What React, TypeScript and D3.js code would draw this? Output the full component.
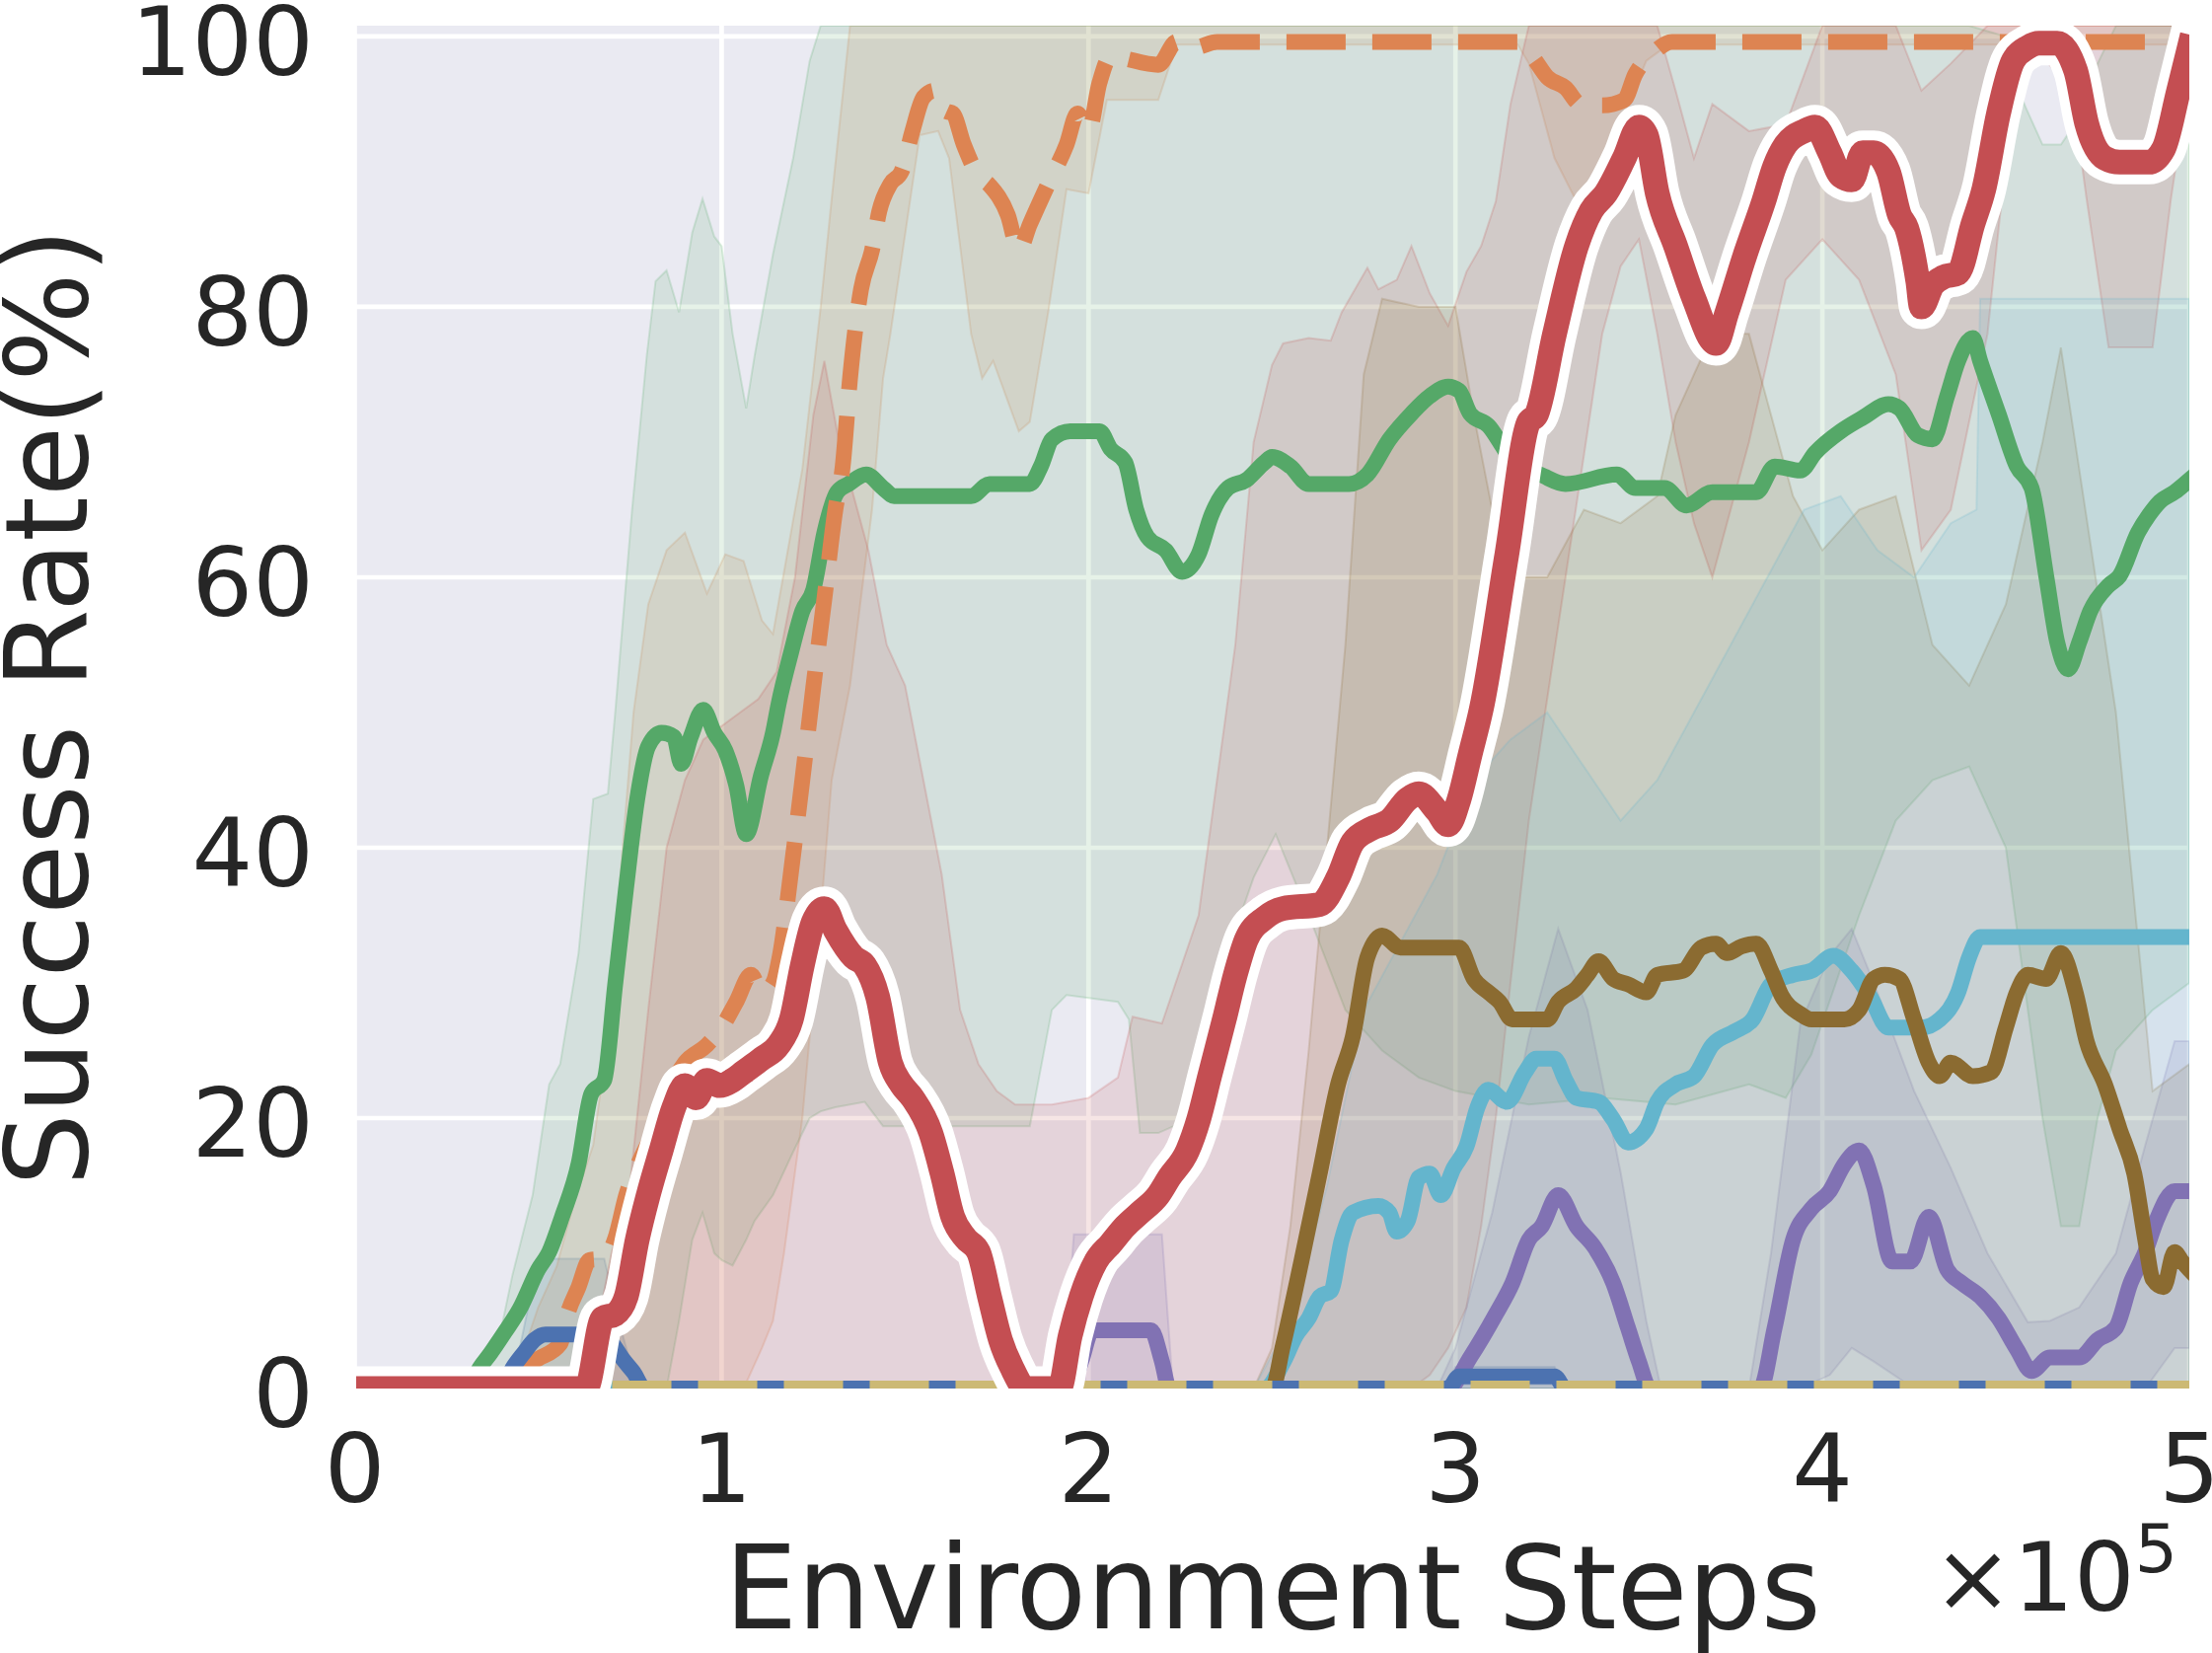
import * as d3 from "d3";
import { useEffect, useRef } from "react";

type Pt = [number, number];
type Band = [number, number, number]; // x, lower, upper

const xTicks = [0, 1, 2, 3, 4, 5];
const yTicks = [0, 20, 40, 60, 80, 100];
const xLabel = "Environment Steps";
const yLabel = "Success Rate(%)";

// mean success rate, x in units of 1e5 env steps
const blueMean: Pt[] = [
  [0, 0], [0.4, 0], [0.43, 1.5], [0.46, 2.6], [0.49, 3.6], [0.52, 4], [0.66, 4], [0.7, 3.4],
  [0.73, 2.2], [0.76, 1.2], [0.79, 0], [2.98, 0], [3.01, 0.9], [3.27, 0.9], [3.3, 0], [5, 0],
];

const orangeMean: Pt[] = [
  [0, 0], [0.4, 0], [0.43, 1.2], [0.5, 2.2], [0.56, 3.3], [0.58, 5.5], [0.61, 7.5], [0.64, 9.5],
  [0.68, 9.6], [0.71, 11.1], [0.74, 14.3], [0.79, 17.6], [0.82, 19.2], [0.87, 22.8], [0.9, 24.1],
  [0.96, 25.4], [1.0, 26.7], [1.04, 28.6], [1.08, 30.6], [1.11, 29.3], [1.14, 30], [1.16, 32.2],
  [1.19, 38.4], [1.22, 45], [1.25, 51.9], [1.28, 58.4], [1.31, 65], [1.33, 68.2], [1.35, 74.7],
  [1.38, 81.3], [1.41, 84.2], [1.43, 87.1], [1.46, 89.1], [1.49, 90], [1.52, 93], [1.55, 95.5],
  [1.58, 96], [1.61, 94.5], [1.63, 94.3], [1.66, 92], [1.7, 89.7], [1.73, 89], [1.78, 86.8],
  [1.81, 84.2], [1.84, 86.1], [1.89, 89.1], [1.94, 92], [1.97, 94.3], [2.0, 93], [2.03, 96.6],
  [2.06, 98.5], [2.19, 97.9], [2.24, 99.6], [2.29, 99.2], [2.35, 99.6], [3.17, 99.6], [3.21, 98.5],
  [3.25, 97], [3.3, 96.2], [3.34, 95], [3.4, 94.9], [3.46, 95.3], [3.49, 97.2], [3.54, 98.8],
  [3.59, 99.6], [5, 99.6],
];

const greenMean: Pt[] = [
  [0, 0], [0.31, 0], [0.34, 1.5], [0.37, 2.6], [0.41, 4.2], [0.45, 5.9], [0.5, 8.8], [0.53, 10.1],
  [0.565, 12.7], [0.61, 16.6], [0.645, 21.8], [0.68, 22.8], [0.71, 29.9], [0.74, 37.1], [0.77, 43.6],
  [0.8, 47.5], [0.836, 48.5], [0.87, 48.2], [0.89, 46.2], [0.916, 48.2], [0.95, 50.2], [0.98, 48.5],
  [1.01, 47.2], [1.04, 44.6], [1.067, 41], [1.107, 45.3], [1.14, 48.5], [1.155, 50.6], [1.19, 54.5],
  [1.22, 57.5], [1.25, 59.1], [1.28, 63.3], [1.315, 66.3], [1.346, 66.9], [1.394, 67.6], [1.44, 66.6],
  [1.47, 66], [1.68, 66], [1.73, 66.9], [1.84, 66.9], [1.87, 68.2], [1.9, 70.2], [1.95, 70.8],
  [2.03, 70.8], [2.06, 69.5], [2.1, 68.5], [2.13, 65], [2.16, 63], [2.21, 62], [2.255, 60.4],
  [2.3, 61.7], [2.335, 64.6], [2.38, 66.6], [2.43, 67.2], [2.48, 68.5], [2.5, 68.9], [2.55, 68.2],
  [2.6, 66.9], [2.71, 66.9], [2.76, 67.6], [2.82, 70.2], [2.88, 72.1], [2.93, 73.4], [2.98, 74.1],
  [3.01, 73.8], [3.04, 72.1], [3.09, 71.2], [3.14, 69.2], [3.17, 68.2], [3.23, 67.6], [3.3, 66.9],
  [3.44, 67.6], [3.49, 66.6], [3.57, 66.6], [3.63, 65.3], [3.7, 66.3], [3.82, 66.3], [3.87, 68.2],
  [3.94, 67.9], [3.98, 69.2], [4.05, 70.8], [4.11, 71.8], [4.18, 72.8], [4.21, 72.5], [4.26, 70.5],
  [4.3, 70.2], [4.34, 73.4], [4.37, 76], [4.41, 77.7], [4.43, 76], [4.48, 72.1], [4.53, 68.2],
  [4.57, 66.6], [4.61, 60.1], [4.64, 55.2], [4.67, 53.2], [4.7, 55.2], [4.73, 57.5], [4.78, 59.4],
  [4.81, 60.1], [4.86, 63.3], [4.89, 64.6], [4.92, 65.6], [4.96, 66.3], [5.0, 67.2],
];

const redMean: Pt[] = [
  [0, 0], [0.63, 0], [0.676, 5.2], [0.71, 5.5], [0.74, 6.8], [0.77, 11], [0.8, 14.3], [0.835, 17.6],
  [0.87, 20.8], [0.9, 22.4], [0.93, 21.5], [0.96, 22.8], [0.995, 22.4], [1.03, 22.8], [1.06, 23.4],
  [1.11, 24.4], [1.155, 25.4], [1.19, 27.3], [1.22, 31.3], [1.25, 34.5], [1.28, 35.5], [1.31, 33.9],
  [1.36, 31.9], [1.39, 31.3], [1.425, 29], [1.46, 24.1], [1.49, 22.5], [1.52, 21.5], [1.57, 18.9],
  [1.6, 16], [1.63, 12.7], [1.665, 11.1], [1.7, 10.1], [1.73, 6.8], [1.76, 3.6], [1.79, 1.6],
  [1.83, 0], [1.92, 0], [1.95, 3.9], [1.98, 6.8], [2.02, 9.4], [2.06, 10.7], [2.1, 12], [2.14, 13],
  [2.19, 14.3], [2.22, 15.6], [2.27, 17.6], [2.3, 19.9], [2.33, 23.1], [2.37, 27.3], [2.4, 30.6],
  [2.43, 33.2], [2.48, 34.8], [2.53, 35.5], [2.63, 35.8], [2.68, 37.8], [2.72, 40.4], [2.77, 41.4],
  [2.82, 42], [2.87, 43.6], [2.9, 44], [2.95, 42.7], [2.98, 41.7], [3.01, 43.6], [3.04, 46.9],
  [3.07, 50.2], [3.14, 61.7], [3.2, 71.5], [3.22, 72], [3.27, 78], [3.33, 84.5], [3.37, 87.1],
  [3.41, 88.4], [3.46, 91], [3.5, 93.3], [3.52, 92.7], [3.55, 88.4], [3.6, 84.5], [3.65, 80.6],
  [3.71, 77.3], [3.74, 79.6], [3.79, 83.9], [3.84, 87.8], [3.87, 90.4], [3.9, 92], [3.95, 93],
  [3.98, 93.3], [4.02, 91.4], [4.05, 89.7], [4.08, 89.4], [4.11, 91.4], [4.14, 91.4], [4.18, 90],
  [4.21, 86.8], [4.23, 85.8], [4.26, 81.9], [4.27, 80], [4.3, 81.6], [4.33, 82.2], [4.37, 82.5],
  [4.41, 86.1], [4.44, 88.7], [4.48, 94.3], [4.52, 98.2], [4.56, 99.2], [4.59, 99.5], [4.64, 99.5],
  [4.69, 97.5], [4.72, 93.6], [4.77, 91], [4.81, 90.7], [4.89, 90.7], [4.93, 91.7], [4.97, 95.9],
  [5.0, 99.2],
];

const purpleMean: Pt[] = [
  [1.9, 0], [1.95, 0], [1.98, 2], [2.01, 4.3], [2.17, 4.3], [2.2, 2], [2.22, 0], [2.98, 0],
  [3.04, 2.3], [3.11, 5.5], [3.155, 7.8], [3.2, 11], [3.235, 12], [3.28, 14.3], [3.33, 12],
  [3.38, 10.4], [3.43, 7.8], [3.47, 4.5], [3.5, 2], [3.53, 0], [3.83, 0], [3.87, 4.5], [3.92, 11],
  [3.97, 13.3], [4.02, 14.6], [4.06, 16.6], [4.1, 17.6], [4.14, 15], [4.19, 9.4], [4.24, 9.4],
  [4.29, 12.7], [4.34, 8.8], [4.38, 7.8], [4.43, 6.8], [4.48, 5.2], [4.53, 2.9], [4.57, 1.3],
  [4.62, 2.3], [4.7, 2.3], [4.75, 3.6], [4.8, 4.5], [4.84, 7.8], [4.88, 10.1], [4.91, 12.4],
  [4.96, 14.6], [5.0, 14.6],
];

const brownMean: Pt[] = [
  [2.4, 0], [2.5, 0], [2.53, 3.2], [2.58, 9.4], [2.63, 15.9], [2.68, 22.5], [2.72, 26], [2.76, 31.9],
  [2.8, 33.5], [2.85, 32.6], [3.01, 32.6], [3.05, 30.3], [3.09, 29.3], [3.12, 28.6], [3.155, 27.3],
  [3.25, 27.3], [3.28, 28.6], [3.33, 29.6], [3.36, 30.6], [3.39, 31.6], [3.43, 30.3], [3.47, 29.9],
  [3.52, 29.3], [3.55, 30.6], [3.62, 30.9], [3.67, 32.6], [3.71, 32.9], [3.74, 32.2], [3.78, 32.7],
  [3.82, 32.9], [3.86, 30.9], [3.89, 29], [3.94, 27.7], [3.97, 27.3], [4.06, 27.3], [4.1, 28],
  [4.14, 30.3], [4.17, 30.6], [4.21, 30.3], [4.25, 27.3], [4.29, 24.1], [4.32, 23.1], [4.35, 24.1],
  [4.41, 23.1], [4.46, 23.4], [4.5, 26.7], [4.53, 29.3], [4.56, 30.6], [4.61, 30.3], [4.65, 32.2],
  [4.69, 29.3], [4.72, 25.7], [4.77, 22.5], [4.81, 19.2], [4.85, 15.9], [4.88, 11], [4.9, 8.1],
  [4.93, 7.5], [4.96, 10.1], [4.98, 9.4], [5.0, 8.8],
];

const cyanMean: Pt[] = [
  [0, 0], [2.48, 0], [2.53, 1.9], [2.565, 3.9], [2.6, 5.2], [2.63, 6.8], [2.66, 7.2], [2.69, 11],
  [2.72, 13], [2.79, 13.5], [2.82, 13], [2.84, 11.6], [2.87, 12.4], [2.9, 15.6], [2.93, 15.9],
  [2.96, 14.3], [2.995, 16.3], [3.03, 17.9], [3.06, 20.8], [3.09, 22.1], [3.14, 21.2], [3.19, 23.4],
  [3.22, 24.4], [3.27, 24.4], [3.3, 22.8], [3.33, 21.5], [3.39, 21.2], [3.43, 19.9], [3.47, 18.2],
  [3.52, 19.2], [3.55, 21.2], [3.6, 22.5], [3.65, 23.1], [3.7, 25.4], [3.76, 26.4], [3.81, 27.3],
  [3.86, 29.9], [3.92, 30.6], [3.97, 30.9], [4.03, 32], [4.08, 30.9], [4.13, 29], [4.18, 26.7],
  [4.27, 26.7], [4.32, 27.3], [4.37, 29.3], [4.4, 31.9], [4.43, 33.4], [5, 33.4],
];

const yellowMean: Pt[] = [[0, 0], [5, 0]];

// shaded spread around each mean: [x, lower, upper]
const blueBand: Band[] = [
  [0, 0, 0], [0.4, 0, 0], [0.45, 0, 3], [0.5, 0, 9.6], [0.68, 0, 9.6], [0.72, 0, 5], [0.77, 0, 0],
  [2.97, 0, 0], [3.0, 0, 1.6], [3.27, 0, 1.6], [3.3, 0, 0], [5, 0, 0],
];

const orangeBand: Band[] = [
  [0, 0, 0], [0.4, 0, 0], [0.45, 0, 2], [0.5, 0, 6], [0.55, 0, 9], [0.6, 0, 14], [0.65, 0, 18],
  [0.7, 0, 28], [0.72, 0, 36.5], [0.76, 0, 50], [0.8, 0, 58], [0.85, 0, 62], [0.9, 0, 63.3],
  [0.96, 0, 58.8], [1.01, 0, 61.7], [1.06, 0, 61.2], [1.11, 3, 56.8], [1.14, 5, 55.8], [1.17, 10, 60.4],
  [1.2, 16, 65], [1.22, 20, 68], [1.27, 35, 80], [1.3, 45, 88], [1.35, 52, 100.8], [1.41, 65, 100.8],
  [1.44, 74.7, 100.8], [1.46, 78, 100.8], [1.54, 92.7, 100.8], [1.59, 93, 100.8], [1.62, 91, 100.8],
  [1.68, 78, 100.8], [1.71, 74.7, 100.8], [1.74, 76, 100.8], [1.81, 70.8, 100.8], [1.84, 71.5, 100.8],
  [1.89, 79.6, 100.8], [1.94, 88.7, 100.8], [2.0, 88.4, 100.8], [2.05, 95.3, 100.8], [2.19, 95.3, 100.8],
  [2.24, 99.4, 100.8], [3.17, 99.4, 100.8], [3.2, 98, 100.8], [3.27, 91, 100.8], [3.33, 87.8, 100.8],
  [3.39, 89.4, 100.8], [3.46, 94.3, 100.8], [3.52, 98.2, 100.8], [3.58, 99.4, 100.8], [5, 99.4, 100.8],
];

const greenBand: Band[] = [
  [0, 0, 0], [0.3, 0, 0], [0.33, 0, 1.5], [0.37, 0, 3.5], [0.4, 0, 4.5], [0.43, 0, 8.4], [0.485, 0, 14.3],
  [0.53, 0, 22.5], [0.56, 0, 24], [0.61, 0, 32.2], [0.65, 0, 43.6], [0.69, 0, 44], [0.71, 0, 50],
  [0.756, 0, 65], [0.796, 0, 76.4], [0.82, 0, 81.9], [0.85, 0, 82.7], [0.884, 5, 79.6], [0.92, 11, 85.5],
  [0.948, 13, 88], [0.98, 10, 85.2], [1.0, 9.5, 84.5], [1.03, 9.1, 78], [1.067, 11, 72.5],
  [1.09, 12.4, 76.4], [1.14, 14.3, 83.9], [1.195, 17.5, 91], [1.24, 20, 98.2], [1.27, 20.5, 100.8],
  [1.31, 20.8, 100.8], [1.39, 21.2, 100.8], [1.44, 19.4, 100.8], [1.84, 19.4, 100.8], [1.9, 28, 100.8],
  [1.94, 29.1, 100.8], [2.08, 28.6, 100.8], [2.11, 27.3, 100.8], [2.14, 18.9, 100.8], [2.19, 18.9, 100.8],
  [2.24, 19.5, 100.8], [2.29, 24.4, 100.8], [2.35, 30, 100.8], [2.4, 33.9, 100.8], [2.45, 37.8, 100.8],
  [2.51, 41, 100.8], [2.6, 35, 100.8], [2.7, 28, 100.8], [2.8, 25, 100.8], [2.9, 23, 100.8],
  [3.0, 22, 100.8], [3.2, 21, 100.8], [3.4, 21.5, 100.8], [3.6, 21, 100.8], [3.8, 22.5, 100.8],
  [3.9, 21.5, 100.8], [3.97, 24.7, 100.8], [4.1, 35, 100.8], [4.2, 42, 100.8], [4.3, 45, 100.8],
  [4.4, 46, 100.8], [4.5, 40, 100], [4.55, 30, 95], [4.6, 20, 92], [4.65, 12, 92], [4.7, 12, 94],
  [4.75, 20, 98], [4.8, 25, 100.8], [4.9, 28, 100.8], [5.0, 30, 100.8],
];

const redBand: Band[] = [
  [0, 0, 0], [0.6, 0, 0], [0.65, 0, 3], [0.7, 0, 10], [0.75, 0, 15], [0.8, 0, 28], [0.85, 0, 40],
  [0.9, 0, 45], [0.95, 0, 48], [1.0, 0, 49], [1.05, 0, 50], [1.1, 0, 51], [1.15, 0, 53], [1.2, 0, 60],
  [1.25, 0, 72], [1.28, 0, 76], [1.32, 0, 70], [1.36, 0, 66], [1.4, 0, 62], [1.45, 0, 55], [1.5, 0, 52],
  [1.55, 0, 45], [1.6, 0, 38], [1.65, 0, 28], [1.7, 0, 24], [1.75, 0, 22], [1.8, 0, 21], [1.9, 0, 21],
  [2.0, 0, 21.5], [2.08, 0, 23], [2.12, 0, 27.5], [2.2, 0, 27], [2.3, 0, 35], [2.4, 0, 55], [2.45, 0, 70],
  [2.5, 0, 75.7], [2.53, 0, 77.3], [2.6, 0, 77.7], [2.66, 0, 77.5], [2.69, 0, 79.6], [2.76, 0, 82.9],
  [2.79, 0, 81.3], [2.84, 0, 82], [2.88, 0, 84.5], [2.93, 1, 81], [2.98, 3, 78.6], [3.03, 6, 82.6],
  [3.07, 12, 84.5], [3.11, 20, 87.8], [3.15, 30, 95], [3.2, 42, 100.8], [3.3, 60, 100.8], [3.4, 78, 100.8],
  [3.45, 83, 100.8], [3.5, 85, 100.8], [3.55, 78, 100.8], [3.6, 70, 96], [3.65, 64, 91], [3.7, 60, 95],
  [3.8, 70, 93], [3.9, 82, 93.5], [4.0, 85, 100.8], [4.1, 82, 100.8], [4.2, 75, 100.8], [4.27, 62, 96],
  [4.35, 65, 98], [4.45, 78, 100.8], [4.52, 96, 100.8], [4.6, 98.5, 100.8], [4.68, 96, 100.8],
  [4.72, 88, 100.8], [4.78, 77, 100.8], [4.9, 77, 100.8], [4.95, 88, 100.8], [5.0, 97, 100.8],
];

const purpleBand: Band[] = [
  [1.9, 0, 0], [1.93, 0, 0], [1.96, 0, 11.4], [2.2, 0, 11.4], [2.23, 0, 0], [2.95, 0, 0], [3.0, 0, 3],
  [3.1, 0, 13], [3.2, 0, 26], [3.28, 0, 34], [3.36, 0, 28], [3.45, 0, 16], [3.52, 0, 5], [3.56, 0, 0],
  [3.8, 0, 0], [3.86, 0, 10], [3.94, 0, 27], [4.02, 1, 32], [4.08, 3, 34], [4.14, 2, 30], [4.25, 0, 22],
  [4.35, 0, 16.3], [4.45, 0, 10], [4.56, 0, 4.9], [4.62, 0, 5], [4.7, 0, 6], [4.8, 0, 10], [4.88, 0, 18],
  [4.96, 3, 25.7], [5, 3, 25.7],
];

const brownBand: Band[] = [
  [2.4, 0, 0], [2.45, 0, 0], [2.5, 0, 3], [2.55, 0, 12], [2.6, 0, 25], [2.65, 0, 40], [2.7, 0, 55],
  [2.75, 0, 75], [2.8, 0, 80.6], [2.9, 0, 80], [3.0, 0, 80], [3.05, 0, 72], [3.1, 0, 65], [3.15, 0, 60],
  [3.25, 0, 60], [3.35, 0, 65], [3.45, 0, 64], [3.55, 0, 66], [3.6, 0, 72], [3.7, 0, 78], [3.8, 0, 78],
  [3.86, 0, 72], [3.92, 0, 66], [4.0, 0, 62], [4.1, 0, 65], [4.2, 0, 66], [4.3, 0, 55], [4.4, 0, 52],
  [4.5, 0, 58], [4.6, 0, 70], [4.65, 0, 77], [4.7, 0, 68], [4.8, 0, 50], [4.9, 0, 22], [5.0, 0, 24],
];

const cyanBand: Band[] = [
  [0, 0, 0], [2.45, 0, 0], [2.55, 0, 5], [2.65, 0, 15], [2.75, 0, 28], [2.85, 0, 33], [2.95, 0, 38],
  [3.05, 0, 45], [3.15, 0, 48], [3.25, 0, 50], [3.35, 0, 46], [3.45, 0, 42], [3.55, 0, 45], [3.65, 0, 50],
  [3.75, 0, 55], [3.85, 0, 60], [3.95, 0, 65], [4.05, 0, 66], [4.15, 0, 62], [4.25, 0, 60], [4.35, 0, 64],
  [4.42, 0, 65], [4.43, 0, 80.6], [5, 0, 80.6],
];

type Series = {
  mean: Pt[];
  band: Band[] | null;
  color: string;
  dashed?: boolean;
  halo?: boolean;
};

const series: Record<string, Series> = {
  blue: { mean: blueMean, band: blueBand, color: "#4C72B0" },
  orange: { mean: orangeMean, band: orangeBand, color: "#DD8452", dashed: true },
  green: { mean: greenMean, band: greenBand, color: "#55A868" },
  red: { mean: redMean, band: redBand, color: "#C44E52", halo: true },
  purple: { mean: purpleMean, band: purpleBand, color: "#8172B3" },
  brown: { mean: brownMean, band: brownBand, color: "#8B6B31" },
  cyan: { mean: cyanMean, band: cyanBand, color: "#64B5CD" },
  yellow: { mean: yellowMean, band: null, color: "#CCB974", dashed: true },
};

const bandOrder = ["blue", "orange", "green", "red", "purple", "brown", "cyan"];
const lineOrder = ["cyan", "purple", "brown", "green", "orange", "blue", "yellow", "red"];

const W = 2242;
const H = 1675;
const plot = { left: 361, right: 2219, top: 26, bottom: 1407 };
const textColor = "#262626";
const font = "'DejaVu Sans', sans-serif";

const App = () => {
  const ref = useRef<SVGSVGElement | null>(null);

  useEffect(() => {
    if (!ref.current) return;
    const svg = d3.select(ref.current);
    svg.selectAll("*").remove();

    const x = d3.scaleLinear().domain([0, 5]).range([359.5, 2219]);
    const y = d3.scaleLinear().domain([0, 100.8]).range([plot.bottom, plot.top]);

    svg
      .append("defs")
      .append("clipPath")
      .attr("id", "plot-clip")
      .append("rect")
      .attr("x", plot.left)
      .attr("y", plot.top)
      .attr("width", plot.right - plot.left)
      .attr("height", plot.bottom - plot.top);

    svg
      .append("rect")
      .attr("x", plot.left)
      .attr("y", plot.top)
      .attr("width", plot.right - plot.left)
      .attr("height", plot.bottom - plot.top)
      .attr("fill", "#EAEAF2");

    const body = svg.append("g").attr("clip-path", "url(#plot-clip)");

    // grid
    body
      .selectAll("line.gx")
      .data(xTicks)
      .join("line")
      .attr("x1", (d) => x(d))
      .attr("x2", (d) => x(d))
      .attr("y1", plot.top)
      .attr("y2", plot.bottom)
      .attr("stroke", "#fff")
      .attr("stroke-width", 4.7);
    body
      .selectAll("line.gy")
      .data(yTicks)
      .join("line")
      .attr("x1", plot.left)
      .attr("x2", plot.right)
      .attr("y1", (d) => y(d))
      .attr("y2", (d) => y(d))
      .attr("stroke", "#fff")
      .attr("stroke-width", 4.7);

    const area = d3
      .area<Band>()
      .x((d) => x(d[0]))
      .y0((d) => y(d[1]))
      .y1((d) => y(d[2]));

    bandOrder.forEach((k) => {
      const s = series[k];
      if (!s.band) return;
      body
        .append("path")
        .datum(s.band)
        .attr("d", area)
        .attr("fill", s.color)
        .attr("fill-opacity", 0.15)
        .attr("stroke", s.color)
        .attr("stroke-opacity", 0.2)
        .attr("stroke-width", 2);
    });

    const line = d3
      .line<Pt>()
      .x((d) => x(d[0]))
      .y((d) => y(d[1]))
      .curve(d3.curveMonotoneX);

    lineOrder.forEach((k) => {
      const s = series[k];
      if (s.halo) {
        body
          .append("path")
          .datum(s.mean)
          .attr("d", line)
          .attr("fill", "none")
          .attr("stroke", "#fff")
          .attr("stroke-width", 45)
          .attr("stroke-linejoin", "round")
          .attr("stroke-linecap", "square");
      }
      body
        .append("path")
        .datum(s.mean)
        .attr("d", line)
        .attr("fill", "none")
        .attr("stroke", s.color)
        .attr("stroke-width", s.halo ? 25 : 16)
        .attr("stroke-linejoin", "round")
        .attr("stroke-linecap", s.dashed ? "butt" : "square")
        .attr("stroke-dasharray", s.dashed ? "60,27" : null);
    });

    // tick labels
    svg
      .append("g")
      .selectAll("text")
      .data(xTicks)
      .join("text")
      .attr("x", (d) => x(d))
      .attr("y", 1522)
      .attr("text-anchor", "middle")
      .attr("font-family", font)
      .attr("font-size", 97)
      .attr("fill", textColor)
      .text((d) => String(d));

    svg
      .append("g")
      .selectAll("text")
      .data(yTicks)
      .join("text")
      .attr("x", 318)
      .attr("y", (d) => y(d) + 39)
      .attr("text-anchor", "end")
      .attr("font-family", font)
      .attr("font-size", 97)
      .attr("fill", textColor)
      .text((d) => String(d));

    // offset text ×10^5
    const off = svg
      .append("text")
      .attr("x", 1959)
      .attr("y", 1632)
      .attr("font-family", font)
      .attr("font-size", 97)
      .attr("fill", textColor);
    off.append("tspan").text("×10");
    off.append("tspan").attr("dy", -39).attr("font-size", 68).text("5");

    svg
      .append("text")
      .attr("x", (plot.left + plot.right) / 2)
      .attr("y", 1650)
      .attr("text-anchor", "middle")
      .attr("font-family", font)
      .attr("font-size", 117)
      .attr("fill", textColor)
      .text(xLabel);

    svg
      .append("text")
      .attr("transform", `translate(88,${(plot.top + plot.bottom) / 2}) rotate(-90)`)
      .attr("text-anchor", "middle")
      .attr("font-family", font)
      .attr("font-size", 116)
      .attr("fill", textColor)
      .text(yLabel);
  }, []);

  return (
    <svg
      ref={ref}
      width={W}
      height={H}
      style={{ position: "absolute", left: 0, top: 0, background: "#fff" }}
    />
  );
};

export default App;
